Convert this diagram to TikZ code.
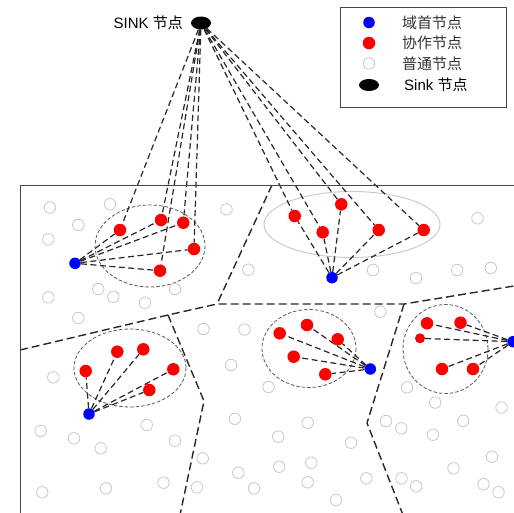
\documentclass[tikz,border=0pt]{standalone}
\usepackage{fontspec}
\setmainfont{Liberation Sans}
\newfontfamily\cjk{Noto Sans CJK SC}
\usetikzlibrary{shapes.geometric}
\pgfdeclarelayer{bg}
\pgfdeclarelayer{paper}
\pgfsetlayers{paper,bg,main}
\definecolor{headblue}{RGB}{0,0,255}
\definecolor{coopred}{RGB}{255,0,0}
\definecolor{ringgray}{RGB}{200,200,200}
\definecolor{linkgray}{RGB}{40,40,40}
\definecolor{framegray}{RGB}{70,70,70}

\tikzset{
  headnode/.style={circle, fill=headblue, inner sep=0pt, minimum size=11.5pt},
  coopnode/.style={circle, fill=coopred, inner sep=0pt, minimum size=12.5pt},
  plainnode/.style={circle, draw=ringgray, line width=0.8pt, fill=white, inner sep=0pt, minimum size=11.5pt},
  sinknode/.style={ellipse, fill=black, inner sep=0pt, minimum width=20pt, minimum height=13pt},
  link/.style={draw=linkgray, line width=1.2pt, dash pattern=on 6pt off 3.5pt},
  border/.style={draw=linkgray, line width=1.4pt, dash pattern=on 8pt off 4pt},
  zone/.style={draw=black!65, line width=0.8pt, dash pattern=on 3.5pt off 2pt},
  lbl/.style={font=\fontsize{15}{17}\selectfont, inner sep=0pt},
}

\begin{document}
\begin{tikzpicture}[x=1pt, y=-1pt]
  \clip (0,0) rectangle (514,512);
  \begin{pgfonlayer}{paper}
    \fill[white] (0,0) rectangle (514,512);
  \end{pgfonlayer}

  % sink and its label
  \node[sinknode] (sink) at (201,23) {};
  \node[lbl, anchor=east] (sinklabel) at (183,23) {SINK {\cjk 节点}};

  % legend
  \draw[framegray, line width=1pt] (340,7) rectangle (506,107);
  \node[headnode] (lgHead) at (369,22.5) {};
  \node[coopnode] (lgCoop) at (369,43) {};
  \node[plainnode] (lgPlain) at (369,63.5) {};
  \node[sinknode, minimum height=12pt] (lgSink) at (369,85) {};
  \node[lbl, anchor=west, text=black!80] (lgHeadTxt) at (402,22.5) {\cjk 域首节点};
  \node[lbl, anchor=west, text=black!80] (lgCoopTxt) at (402,43) {\cjk 协作节点};
  \node[lbl, anchor=west, text=black!80] (lgPlainTxt) at (402,63.5) {\cjk 普通节点};
  \node[lbl, anchor=west] (lgSinkTxt) at (404,85) {Sink {\cjk 节点}};

  % monitored field
  \draw[framegray, line width=1pt] (20,185) rectangle (540,540);

  % region boundaries
  \begin{pgfonlayer}{paper}
    \draw[border] (20,350) -- (168,315) -- (217,304) -- (404,304) -- (520,285);
    \draw[border] (272,185) -- (217,304);
    \draw[border] (168,315) -- (204,401) -- (180,515);
    \draw[border] (404,304) -- (367,423) -- (403,515);

    % cluster outlines
    \draw[zone] (150,246) ellipse [x radius=55, y radius=41];
    \draw[ringgray, line width=0.9pt] (352,224.5) ellipse [x radius=88, y radius=33];
    \draw[zone] (130,368) ellipse [x radius=56, y radius=39];
    \draw[zone] (309,348.5) ellipse [x radius=47, y radius=39];
    \draw[zone] (445.5,349) ellipse [x radius=42.5, y radius=44.5];
  \end{pgfonlayer}

  % ordinary nodes
  \foreach \px/\py [count=\i] in {
    50/207.5, 110/204.3, 78.3/225, 48.3/239.3, 226.5/209.3, 248.3/269.7,
    98.3/289, 113.3/296.7, 145/302.7, 175/289, 48.3/297.3, 78.3/318,
    203.5/329, 244.5/329.5,
    477.5/218.3, 373/270, 416/278, 457.2/270, 490.8/268, 380.3/311.7,
    53.3/377.3, 231/365, 40.7/431, 74/438.3, 100.7/448.3, 146.7/425,
    175/440.7, 235/418.8, 202.7/458.3, 238.3/472.7, 254/488.3, 163.5/482.7,
    197/487.3, 106/488.3, 42.3/492.3,
    268.5/387, 407/387.3, 435.2/402.5, 501.5/407.5, 307.7/422.7, 386/421,
    401.3/428.3, 463.2/420.8, 433/434.7, 278.2/436.7, 351/442.7, 492/456.7,
    279.2/466.7, 311.3/462.7, 453.5/468.3, 307.7/482.3, 366.3/478.3,
    401.5/478.3, 416.2/486.3, 483.5/484.2, 498.5/492.2, 336/500}
    \node[plainnode] (c\i) at (\px,\py) {};

  % cluster 1
  \node[headnode] (h1) at (75,263.3) {};
  \node[coopnode] (r11) at (120,230) {};
  \node[coopnode] (r12) at (161,220) {};
  \node[coopnode] (r13) at (183.3,222.7) {};
  \node[coopnode] (r14) at (194,249) {};
  \node[coopnode] (r15) at (160,270.7) {};

  % cluster 2
  \node[headnode] (h2) at (332,277.7) {};
  \node[coopnode] (r21) at (294.7,216) {};
  \node[coopnode] (r22) at (322.7,232.3) {};
  \node[coopnode] (r23) at (341.3,204.3) {};
  \node[coopnode] (r24) at (378.7,230) {};
  \node[coopnode] (r25) at (423.7,230) {};

  % cluster 3
  \node[headnode] (h3) at (89,414) {};
  \node[coopnode] (r31) at (85.7,371) {};
  \node[coopnode] (r32) at (117.3,351.7) {};
  \node[coopnode] (r33) at (143.3,349.3) {};
  \node[coopnode] (r34) at (173.3,369.3) {};
  \node[coopnode] (r35) at (149.3,390) {};

  % cluster 4
  \node[headnode] (h4) at (370.3,369) {};
  \node[coopnode] (r41) at (279.7,333.3) {};
  \node[coopnode] (r42) at (307,325) {};
  \node[coopnode] (r43) at (337.7,339.3) {};
  \node[coopnode] (r44) at (293.7,356.7) {};
  \node[coopnode] (r45) at (325.3,374.3) {};

  % cluster 5
  \node[headnode] (h5) at (513,341.7) {};
  \node[coopnode] (r51) at (427,323.3) {};
  \node[coopnode] (r52) at (460.5,322.7) {};
  \node[coopnode, minimum size=10pt] (r53) at (420,338.3) {};
  \node[coopnode] (r54) at (442,369) {};
  \node[coopnode] (r55) at (473,369) {};

  % links: sink to cooperating nodes, heads to their members
  \begin{pgfonlayer}{bg}
    \foreach \c in {1,2} {
      \foreach \k in {1,...,5} {
        \draw[link] (sink) -- (r\c\k);
      }
    }
    \foreach \c in {1,...,5} {
      \foreach \k in {1,...,5} {
        \draw[link] (h\c) -- (r\c\k);
      }
    }
  \end{pgfonlayer}
\end{tikzpicture}
\end{document}
